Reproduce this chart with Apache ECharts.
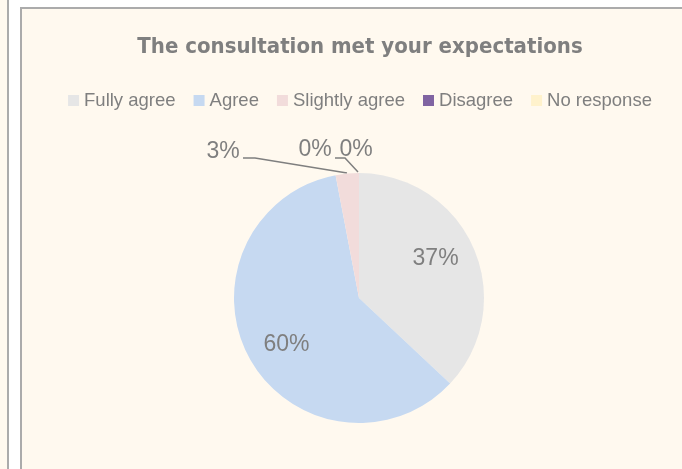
<!DOCTYPE html>
<html>
<head>
<meta charset="utf-8">
<script src="https://cdn.jsdelivr.net/npm/echarts@6/dist/echarts.min.js"></script>
<style>
  html, body { margin: 0; padding: 0; width: 682px; height: 469px; overflow: hidden; background: #fff; }
  #left { position: absolute; left: -20px; top: -20px; width: 25px; height: 520px; background: #FFF9EF; border: 2px solid #ABABAB; }
  #panel { position: absolute; left: 20px; top: 7px; width: 700px; height: 500px; background: #FFF9EF; border: 2px solid #ABABAB; }
  #chart { position: absolute; left: 22px; top: 9px; width: 676px; height: 460px; }
</style>
</head>
<body>
<div id="left"></div>
<div id="panel"></div>
<div id="chart"></div>
<script>
var categories = ['Fully agree', 'Agree', 'Slightly agree', 'Disagree', 'No response'];
var percents = [37, 60, 3, 0, 0];
var colors = ['#E6E6E6', '#C6D9F1', '#F2DCDB', '#8064A2', '#FFF2CC'];

document.addEventListener('DOMContentLoaded', function()
{
  var chart = echarts.init(document.getElementById('chart'));

  var cx = 337, cy = 289, radius = 125;
  var total = percents.reduce(function(a, b) { return a + b; }, 0);

  // label anchors for the small slices (container px)
  var outside = {
    2: { x: 201, y: 143, line: [[325, 164], [233, 149], [221, 149]] },
    3: { x: 293, y: 141, line: [[336, 163], [323, 149], [313, 149]] },
    4: { x: 334, y: 141, line: null }
  };

  var seriesData = categories.map(function(name, i) {
    var small = percents[i] < 10;
    return {
      name: name,
      value: percents[i],
      itemStyle: { color: colors[i] },
      label: { position: small ? 'outside' : 'inside' },
      labelLine: { show: small && outside[i].line !== null }
    };
  });

  var option = {
    animation: false,
    title: {
      text: 'The consultation met your expectations',
      left: 'center',
      top: 22,
      textStyle: {
        fontFamily: '"DejaVu Sans Condensed", sans-serif',
        fontSize: 22,
        fontWeight: 'bold',
        color: '#7F7F7F'
      }
    },
    legend: {
      left: 'center',
      top: 77,
      itemWidth: 11,
      itemHeight: 11,
      itemGap: 18,
      icon: 'rect',
      textStyle: {
        fontFamily: '"Liberation Sans", sans-serif',
        fontSize: 18.5,
        color: '#7F7F7F'
      },
      data: categories
    },
    series: [{
      type: 'pie',
      center: [cx, cy],
      radius: radius,
      startAngle: 90,
      clockwise: true,
      percentPrecision: 0,
      data: seriesData,
      label: {
        formatter: '{d}%',
        fontFamily: '"Liberation Sans", sans-serif',
        fontSize: 23,
        color: '#7F7F7F'
      },
      labelLine: {
        lineStyle: { color: '#7F7F7F', width: 1.5 }
      },
      emphasis: { disabled: true },
      labelLayout: function(params) {
        var i = params.dataIndex;
        if (outside[i]) {
          var o = outside[i];
          var res = { x: o.x, y: o.y, align: 'center', verticalAlign: 'middle' };
          if (o.line) res.labelLinePoints = o.line;
          return res;
        }
        // inside labels: along the slice's mid angle, a bit toward the start
        var before = 0;
        for (var k = 0; k < i; k++) before += percents[k];
        var mid = (before + percents[i] / 2) / total * 2 * Math.PI - 4 * Math.PI / 180;
        var r = radius * 0.69;
        return {
          x: cx + r * Math.sin(mid),
          y: cy - r * Math.cos(mid),
          align: 'center',
          verticalAlign: 'middle'
        };
      }
    }]
  };

  chart.setOption(option);
});
</script>
</body>
</html>
